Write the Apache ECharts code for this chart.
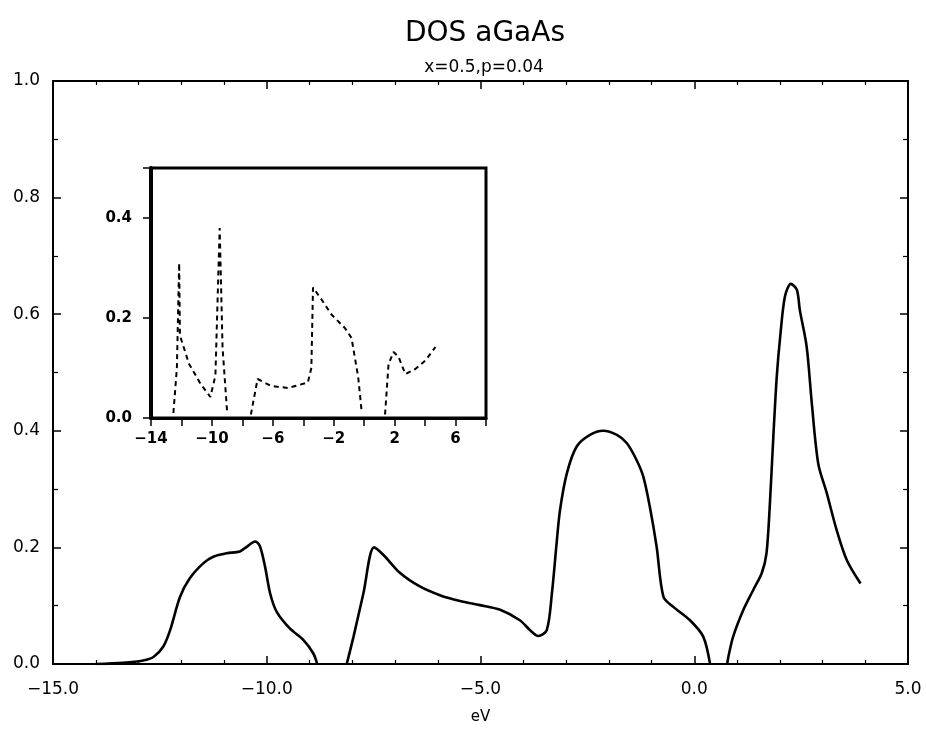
<!DOCTYPE html>
<html>
<head>
<meta charset="utf-8">
<script src="https://cdn.jsdelivr.net/npm/echarts@6/dist/echarts.min.js"></script>
<style>
  html, body { margin: 0; padding: 0; background: #fff; }
  #chart { width: 926px; height: 740px; }
</style>
</head>
<body>
<div id="chart"></div>
<script>
// Density of states of amorphous GaAs (x=0.5, p=0.04); null marks a band gap.
const mainEnergy = [
  -14.0, -13.36, -12.89, -12.65, -12.42, -12.26, -12.03, -11.80, -11.48, -11.25,
  -10.94, -10.63, -10.47, -10.27, -10.16, -10.04, -9.92, -9.77, -9.46, -9.14,
  -8.91, -8.82,
  -8.5,
  -8.13, -7.97, -7.74, -7.49, -7.27, -6.88, -6.42, -5.95, -5.48, -5.01,
  -4.54, -4.08, -3.84, -3.65, -3.45, -3.33, -3.22, -3.14, -2.98, -2.75,
  -2.44, -2.13, -1.81, -1.58, -1.35, -1.19, -1.04, -0.88, -0.72, -0.49,
  -0.10, 0.21, 0.37,
  0.55,
  0.77, 0.80, 0.91, 1.15, 1.38, 1.58, 1.69, 1.77, 1.85, 1.93,
  2.01, 2.12, 2.26, 2.40, 2.47, 2.63, 2.75, 2.90, 3.10, 3.33,
  3.57, 3.89
];
const mainDos = [
  0, 0.002, 0.006, 0.012, 0.030, 0.058, 0.115, 0.147, 0.173, 0.184,
  0.190, 0.193, 0.201, 0.210, 0.202, 0.167, 0.121, 0.090, 0.061, 0.041,
  0.018, 0,
  null,
  0, 0.047, 0.121, 0.200, 0.187, 0.156, 0.133, 0.118, 0.108, 0.101,
  0.093, 0.075, 0.058, 0.048, 0.058, 0.121, 0.207, 0.264, 0.327, 0.373,
  0.393, 0.400, 0.393, 0.379, 0.350, 0.321, 0.270, 0.201, 0.115, 0.098,
  0.075, 0.047, 0,
  null,
  0, 0.013, 0.047, 0.093, 0.127, 0.156, 0.190, 0.276, 0.390, 0.493,
  0.561, 0.630, 0.652, 0.642, 0.607, 0.544, 0.447, 0.344, 0.293, 0.230,
  0.178, 0.138
];

// Inset curve (dashed)
const insetEnergy = [
  -12.53, -12.3, -12.15, -12.1, -11.5, -10.74, -10.1, -9.77, -9.49, -9.3, -9.0,
  -8.2,
  -7.44, -7.0, -6.11, -5.0, -3.7, -3.47, -3.36, -2.8, -2.15, -1.27, -0.83, -0.39, -0.17,
  0.6,
  1.37, 1.6, 1.93, 2.26, 2.7, 3.36, 4.02, 4.68
];
const insetDos = [
  0.01, 0.10, 0.31, 0.165, 0.108, 0.068, 0.042, 0.085, 0.38, 0.14, 0.012,
  null,
  0.007, 0.078, 0.064, 0.060, 0.071, 0.100, 0.261, 0.237, 0.207, 0.180, 0.160, 0.081, 0.014,
  null,
  0.007, 0.108, 0.132, 0.122, 0.088, 0.098, 0.115, 0.142
];

const titleText = 'DOS aGaAs';
const subtitleText = 'x=0.5,p=0.04';
const xAxisName = 'eV';

const pairs = (xs, ys) => xs.map((x, i) => [x, ys[i] === null ? '-' : ys[i]]);
const minus = s => s.replace('-', '\u2212');
const FONT = 'DejaVu Sans';
const black = '#000';

const chart = echarts.init(document.getElementById('chart'), null, { renderer: 'canvas' });

const mainTick = { show: true, inside: true, length: 8, lineStyle: { color: black, width: 1.5 } };
const noSplit = { show: false };

chart.setOption({
  animation: false,
  backgroundColor: '#fff',
  title: [
    { text: titleText, left: 480, top: 15, textAlign: 'center',
      textStyle: { fontFamily: FONT, fontSize: 28, fontWeight: 'normal', color: black } },
    { text: subtitleText, left: 479, top: 54, textAlign: 'center',
      textStyle: { fontFamily: FONT, fontSize: 17, fontWeight: 'normal', color: black } }
  ],
  grid: [
    { left: 53, right: 18, top: 81, bottom: 76, show: false },
    { left: 151, top: 168, width: 335, height: 250, show: true,
      backgroundColor: '#fff', borderColor: black, borderWidth: 3 }
  ],
  xAxis: [
    { type: 'value', gridIndex: 0, position: 'bottom', min: -15, max: 5, interval: 5,
      axisLine: { onZero: false, lineStyle: { color: black, width: 2 } },
      axisTick: mainTick,
      minorTick: { show: true, splitNumber: 5, length: 4, lineStyle: { color: black, width: 1.2 } },
      splitLine: noSplit, minorSplitLine: noSplit,
      axisLabel: { margin: 17, fontFamily: FONT, fontSize: 17, color: black,
        formatter: v => minus(v.toFixed(1)) },
      name: xAxisName, nameLocation: 'middle', nameGap: 46,
      nameTextStyle: { fontFamily: FONT, fontSize: 15, color: black } },
    { type: 'value', gridIndex: 0, position: 'top', min: -15, max: 5, interval: 5,
      axisLine: { onZero: false, lineStyle: { color: black, width: 2 } },
      axisTick: mainTick,
      minorTick: { show: true, splitNumber: 5, length: 4, lineStyle: { color: black, width: 1.2 } },
      splitLine: noSplit, minorSplitLine: noSplit,
      axisLabel: { show: false } },
    { type: 'value', gridIndex: 1, position: 'bottom', min: -14, max: 8, interval: 2,
      axisLine: { onZero: false, lineStyle: { color: black, width: 3 } },
      axisTick: { show: true, inside: false, length: 8, lineStyle: { color: black, width: 1.5 } },
      splitLine: noSplit,
      axisLabel: { margin: 14, fontFamily: FONT, fontSize: 15, fontWeight: 'bold', color: black,
        formatter: v => (Math.round(v + 14) % 4 === 0 ? minus(String(Math.round(v))) : '') } }
  ],
  yAxis: [
    { type: 'value', gridIndex: 0, position: 'left', min: 0, max: 1, interval: 0.2,
      axisLine: { onZero: false, lineStyle: { color: black, width: 2 } },
      axisTick: mainTick,
      minorTick: { show: true, splitNumber: 2, length: 5, lineStyle: { color: black, width: 1.2 } },
      splitLine: noSplit, minorSplitLine: noSplit,
      axisLabel: { margin: 13, fontFamily: FONT, fontSize: 17, color: black,
        formatter: v => v.toFixed(1) } },
    { type: 'value', gridIndex: 0, position: 'right', min: 0, max: 1, interval: 0.2,
      axisLine: { onZero: false, lineStyle: { color: black, width: 2 } },
      axisTick: mainTick,
      minorTick: { show: true, splitNumber: 2, length: 5, lineStyle: { color: black, width: 1.2 } },
      splitLine: noSplit, minorSplitLine: noSplit,
      axisLabel: { show: false } },
    { type: 'value', gridIndex: 1, position: 'left', min: 0, max: 0.5, interval: 0.2,
      axisLine: { onZero: false, lineStyle: { color: black, width: 4 } },
      axisTick: { show: true, inside: false, length: 8, lineStyle: { color: black, width: 1.5 } },
      splitLine: noSplit,
      axisLabel: { margin: 19, fontFamily: FONT, fontSize: 15, fontWeight: 'bold', color: black,
        formatter: v => (v < 0.45 ? v.toFixed(1) : '') } }
  ],
  series: [
    { type: 'line', xAxisIndex: 0, yAxisIndex: 0, data: pairs(mainEnergy, mainDos),
      showSymbol: false, connectNulls: false, smooth: 0.3,
      lineStyle: { color: black, width: 2.6 } },
    { type: 'line', xAxisIndex: 2, yAxisIndex: 2, data: pairs(insetEnergy, insetDos),
      showSymbol: false, connectNulls: false,
      lineStyle: { color: black, width: 2, type: [5, 4] } }
  ]
});
</script>
</body>
</html>
